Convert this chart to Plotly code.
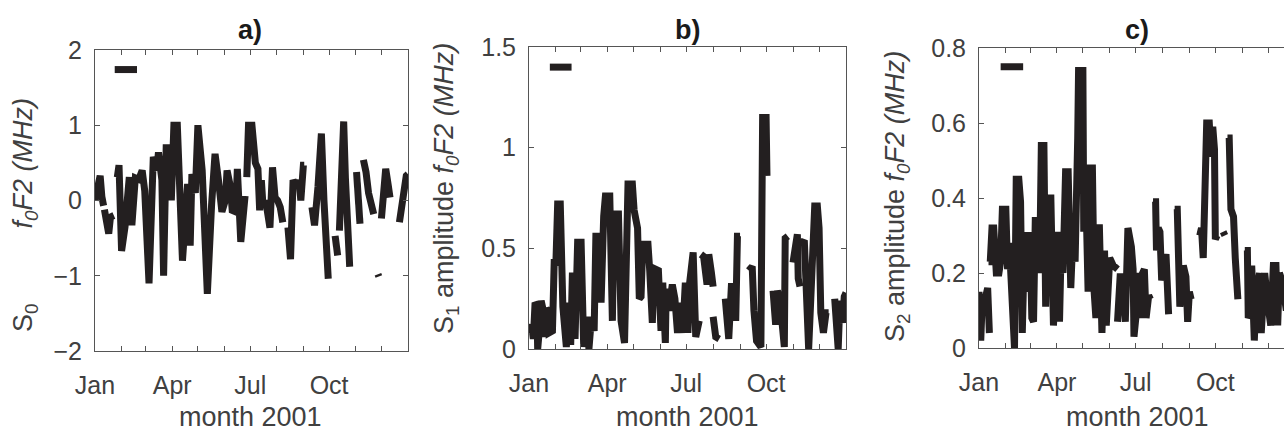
import plotly.graph_objects as go

# ---------------- data (day of year 2001, value); None = gap ----------------
a_days = [1, 4, 7, 9, 11, None,
          12, 15, 17, 19, 23, None,
          27, 29, 32, 36, 41, 44, 48, 52, 56, 59, 64, 69, 73, 75, 79, 81, 84, 88, 90, 93, 97,
          101, 103, 106, 109, 112, 114, 118, 121, 126, 132, 137, 141, 145, 149, 153, 155, 159,
          161, 165, 167, 171, 175, 176, None,
          178, 180, 184, 186, 188, 191, 193, 195, 197, 200, 203, 205, 208, 211, 214, 217, 220, None,
          226, 229, 232, 236, 239, 241, 244, 245, None,
          254, 257, 261, 263, 265, 268, 270, 273, None,
          281, 284, None,
          286, 289, 291, 293, 295, 298, None,
          306, 308, 310, None,
          314, 317, 320, 324, 326, None,
          331, 332, None,
          335, 337, 340, 343, 345, None,
          356, 359, 361, 364, 366]
a_vals = [0.0, 0.15, 0.33, 0.05, -0.07, None,
          -0.12, -0.35, -0.44, -0.22, -0.2, None,
          0.31, 0.47, -0.67, -0.35, 0.31, -0.33, 0.3, 0.28, 0.4, 0.13, -1.1, 0.58, 0.4, 0.64, 0.27, -1.0, 0.7, 0.7, 0.0, 1.0, 1.0,
          -0.2, -0.8, -0.3, 0.22, -0.6, 0.35, 0.1, 1.0, 0.4, -1.24, -0.05, 0.62, 0.27, -0.15, 0.0, 0.4, 0.18,
          -0.13, -0.15, 0.42, -0.55, 0.04, 0.06, None,
          0.31, 1.0, 1.0, 0.55, 0.5, 0.42, -0.13, 0.27, -0.09, 0.0, -0.18, -0.36, 0.44, 0.04, 0.0, -0.09, -0.29, None,
          -0.36, -0.78, 0.27, 0.18, 0.27, 0.0, 0.47, 0.47, None,
          -0.09, -0.33, 0.18, 0.67, 0.89, 0.0, -0.5, -1.04, None,
          -0.47, -0.73, None,
          -0.4, 0.3, 1.05, 0.3, -0.3, -0.88, None,
          0.38, 0.1, -0.31, None,
          0.54, 0.38, 0.1, -0.1, -0.18, None,
          -0.98, -1.01, None,
          -0.24, 0.1, 0.42, 0.2, 0.04, None,
          -0.29, 0.0, 0.18, 0.33, 0.35]

b_days = [1, 4, 6, 8, 10, 11, 13, 15, 17, 19, 21, 23, 24,
          28, 30, 32, 34, 37, 40, 44, 47, 49, 51, 54, 57, 61, 64, 67, 70, 73, 76, 78, 82, 84, 87, 89, 94, 97, 99,
          104, 107, 111, 115, 120, 122, 126, 128, 130, 132, 138, 140, 143, 145, 150, 153, 155, 158, 159,
          162, 166, 169, 172, 175, 178, 181, 184, 186, 190, 193, 196, 197, None,
          199, 202, 206, 208, 211, 213, None,
          213, 216, 220, None,
          227, 231, 234, 237, 239, 241, 244, None,
          254, 258, 260, 263, 268, 270, 274, 275, None,
          282, 285, 287, 290, 295, 296, 299, None,
          305, 308, 310, 311, 313, None,
          314, 318, 323, 326, 330, 333, 335, 337, 340, 343, 346, None,
          353, 357, 359, 362, 364, 366]
b_vals = [0.08, 0.12, 0.05, 0.23, 0.22, 0.0, 0.1, 0.24, 0.2, 0.06, 0.2, 0.19, 0.08,
          0.09, 0.43, 0.43, 0.72, 0.72, 0.21, 0.01, 0.23, 0.02, 0.38, 0.05, 0.53, 0.53, 0.01, 0.16, 0.0, 0.16, 0.09, 0.56, 0.56, 0.23, 0.66, 0.76, 0.76, 0.14, 0.67,
          0.67, 0.14, 0.03, 0.82, 0.82, 0.69, 0.6, 0.25, 0.26, 0.52, 0.52, 0.39, 0.13, 0.4, 0.39, 0.09, 0.33, 0.03, 0.3,
          0.19, 0.32, 0.25, 0.08, 0.23, 0.08, 0.33, 0.08, 0.33, 0.48, 0.06, 0.14, 0.14, None,
          0.47, 0.46, 0.32, 0.47, 0.38, 0.31, None,
          0.16, 0.06, 0.05, None,
          0.25, 0.05, 0.31, 0.31, 0.14, 0.56, 0.56, None,
          0.39, 0.41, 0.19, 0.04, 0.01, 1.15, 1.15, 0.86, None,
          0.29, 0.12, 0.29, 0.24, 0.01, 0.55, 0.56, None,
          0.43, 0.52, 0.57, 0.35, 0.31, None,
          0.52, 0.54, 0.0, 0.39, 0.71, 0.71, 0.6, 0.18, 0.08, 0.18, 0.18, None,
          0.25, 0.0, 0.24, 0.13, 0.26, 0.28]

c_days = [1, 3, 5, 7, 11, 13, None,
          12, 14, 16, 18, 21, 24, 26, 28, 32, 34, 36, 38, 40, 42, 44, 47, 49, 51, 53, 55, 57, 60, 62, 64,
          66, 68, 71, 73, 76, 78, 80, 84, 87, 90, 92, 94, 96, 98, 101, 104, 107, 110, 112, 115, 116,
          121, 122, 124, 127, 128, 132, 134, 136, 140, 143, 146, 148, 152, 156, 161, None,
          161, 164, 167, 170, 173, 175, 177, 179, 180, 183, 185, 187, 188, 192, 194, 197, 199, None,
          202, 205, 206, 208, 210, 212, 215, 217, 220, None,
          227, 230, 233, 235, 237, 240, 242, 244, 246, None,
          256, 258, 260, 262, 264, 267, 269, 271, 273, 274, 276, None,
          283, 285, None,
          288, 290, 292, 295, 297, 300, None,
          308, 311, 312, 314, 316, 319, 321, 325, 327, 331, 335, 338, 341, 344, 346, 348, 351, 353, 356, 360]
c_vals = [0.15, 0.02, 0.14, 0.12, 0.16, 0.04, None,
          0.23, 0.23, 0.32, 0.32, 0.2, 0.2, 0.23, 0.37, 0.37, 0.21, 0.28, 0.21, 0.07, 0.0, 0.45, 0.45, 0.39, 0.04, 0.23, 0.15, 0.3, 0.3, 0.08, 0.07,
          0.34, 0.34, 0.2, 0.54, 0.54, 0.11, 0.4, 0.4, 0.06, 0.31, 0.31, 0.07, 0.28, 0.2, 0.47, 0.47, 0.16, 0.33, 0.23, 0.56, 0.74,
          0.74, 0.31, 0.46, 0.15, 0.48, 0.48, 0.15, 0.08, 0.33, 0.04, 0.26, 0.06, 0.24, 0.22, 0.21, None,
          0.07, 0.19, 0.19, 0.07, 0.32, 0.3, 0.27, 0.21, 0.03, 0.1, 0.2, 0.08, 0.19, 0.21, 0.08, 0.14, 0.13, None,
          0.39, 0.39, 0.26, 0.32, 0.31, 0.18, 0.23, 0.25, 0.09, None,
          0.37, 0.37, 0.11, 0.22, 0.22, 0.19, 0.07, 0.15, 0.13, None,
          0.3, 0.32, 0.24, 0.4, 0.6, 0.6, 0.51, 0.59, 0.53, 0.29, 0.3, None,
          0.31, 0.3, None,
          0.56, 0.56, 0.37, 0.35, 0.24, 0.13, None,
          0.26, 0.26, 0.08, 0.09, 0.22, 0.02, 0.14, 0.2, 0.04, 0.2, 0.11, 0.06, 0.22, 0.22, 0.06, 0.2, 0.18, 0.15, 0.1, 0.2]

# scale bars (27-day marker) in top-left of each panel
a_bar_days, a_bar_vals = [24, 50], [1.74, 1.74]
b_bar_days, b_bar_vals = [25, 50], [1.4, 1.4]
c_bar_days, c_bar_vals = [26, 52], [0.75, 0.75]

month_ticks = [1, 32, 60, 91, 121, 152, 182, 213, 244, 274, 305, 335, 366]
month_labels = ["Jan", "", "", "Apr", "", "", "Jul", "", "", "Oct", "", "", ""]

a_yticks = [-2, -1, 0, 1, 2]
b_yticks = [0, 0.5, 1, 1.5]
c_yticks = [0, 0.2, 0.4, 0.6, 0.8]

titles = ["a)", "b)", "c)"]
NB = "\u00a0"
ylabels = ["S<sub>0</sub> " + NB * 9 + "<i>f<sub>0</sub>F2 (MHz)</i>",
           "S<sub>1</sub> amplitude <i>f<sub>0</sub>F2 (MHz)</i>",
           "S<sub>2</sub> amplitude <i>f<sub>0</sub>F2 (MHz)</i>"]
xlabel = "month 2001"

# ---------------- style ----------------
W, H = 1284, 432
LINE = "#231f20"
AX = "#555555"
TXT = "#404040"
FONT = "Liberation Sans, Arial, Helvetica, sans-serif"
LW = 7
TICKF = 25
LABF = 27

fig = go.Figure()
series = [(a_days, a_vals, a_bar_days, a_bar_vals, "x", "y"),
          (b_days, b_vals, b_bar_days, b_bar_vals, "x2", "y2"),
          (c_days, c_vals, c_bar_days, c_bar_vals, "x3", "y3")]
for d, v, bd, bv, xa, ya in series:
    fig.add_trace(go.Scatter(x=d, y=v, mode="lines", xaxis=xa, yaxis=ya,
                             line=dict(color=LINE, width=LW), connectgaps=False,
                             showlegend=False, hoverinfo="skip"))
    fig.add_trace(go.Scatter(x=bd, y=bv, mode="lines", xaxis=xa, yaxis=ya,
                             line=dict(color=LINE, width=LW),
                             showlegend=False, hoverinfo="skip"))

# panel pixel boxes (left, right, top, bottom)
boxes = [(95, 408, 50, 351), (529, 846, 47, 349), (979, W, 48, 348)]
c_end = 1 + (W - 979) * 365 / 316.0


def xax(i, box, rng):
    l, r, t, b = box
    return dict(domain=[l / W, r / W], range=rng, anchor="y" if i == 1 else f"y{i}",
                tickmode="array", tickvals=month_ticks, ticktext=month_labels,
                ticks="inside", ticklen=5, tickcolor=AX, tickwidth=1,
                showline=True, linecolor=AX, linewidth=1, mirror="ticks",
                showgrid=False, zeroline=False, ticklabelstandoff=12, automargin=False,
                tickfont=dict(family=FONT, size=TICKF, color=TXT))


def yax(i, box, rng, ticks, mirror=True):
    l, r, t, b = box
    return dict(domain=[1 - b / H, 1 - t / H], range=rng, anchor="x" if i == 1 else f"x{i}",
                tickmode="array", tickvals=ticks,
                ticks="inside", ticklen=5, tickcolor=AX, tickwidth=1,
                showline=True, linecolor=AX, linewidth=1, mirror="ticks" if mirror else False,
                showgrid=False, zeroline=False, ticklabelstandoff=7, automargin=False,
                tickfont=dict(family=FONT, size=TICKF, color=TXT))


fig.update_layout(
    width=W, height=H, margin=dict(l=0, r=0, t=0, b=0, pad=0, autoexpand=False),
    paper_bgcolor="white", plot_bgcolor="white",
    xaxis=xax(1, boxes[0], [1, 366]),
    xaxis2=xax(2, boxes[1], [1, 366]),
    xaxis3=xax(3, boxes[2], [1, c_end]),
    yaxis=yax(1, boxes[0], [-2, 2], a_yticks),
    yaxis2=yax(2, boxes[1], [0, 1.5], b_yticks),
    yaxis3=yax(3, boxes[2], [0, 0.8], c_yticks, mirror=False),
)

ann = []
title_x = [250, 687.5, 1137]
ylab_pos = [(25, 215), (446, 189), (897, 197)]
for i in range(3):
    ann.append(dict(text=f"<b>{titles[i]}</b>", x=title_x[i] / W, y=1 - 30 / H,
                    xref="paper", yref="paper", showarrow=False, xanchor="center", yanchor="middle",
                    font=dict(family=FONT, size=LABF, color="#1a1a1a")))
    ann.append(dict(text=xlabel, x=title_x[i] / W, y=1 - 417 / H,
                    xref="paper", yref="paper", showarrow=False, xanchor="center", yanchor="middle",
                    font=dict(family=FONT, size=LABF, color=TXT)))
    ann.append(dict(text=ylabels[i], x=ylab_pos[i][0] / W, y=1 - ylab_pos[i][1] / H,
                    xref="paper", yref="paper", showarrow=False, xanchor="center", yanchor="middle",
                    textangle=-90, font=dict(family=FONT, size=LABF, color=TXT)))
fig.update_layout(annotations=ann)

fig.write_html("out.html")
